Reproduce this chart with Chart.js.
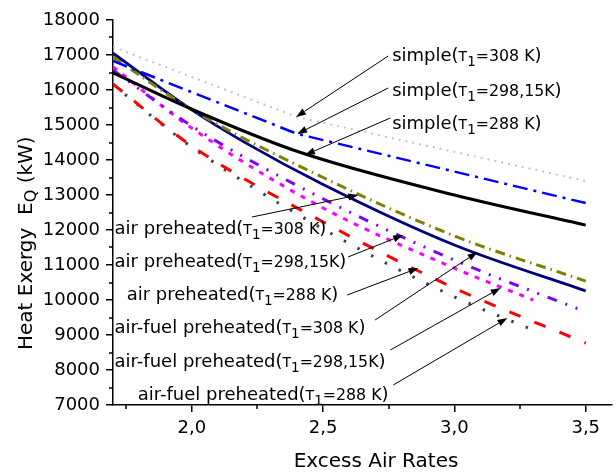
<!DOCTYPE html>
<html><head><meta charset="utf-8">
<script src="https://cdn.jsdelivr.net/npm/chart.js@4.4.0/dist/chart.umd.min.js"></script>
<style>html,body{margin:0;padding:0;background:#fff;}#wrap{width:616px;height:472px;position:relative;}</style>
</head><body><div id="wrap"><canvas id="c" width="616" height="472"></canvas></div>
<script>
// ---- data ----
const simple308X = [1.7, 2.4, 3.5];
const simple308  = [17230, 15230, 13400];
const simple298X = [1.7, 2.4, 3.5];
const simple298  = [16830, 14750, 12770];
const simple288X = [1.7, 2.0, 2.4, 3.0, 3.5];
const simple288  = [16490, 15450, 14250, 13000, 12140];
const airX       = [1.7, 2.0, 2.5, 3.0, 3.5];
const air308     = [16940, 15440, 13500, 11830, 10540];
const air298     = [16570, 14970, 12890, 11140, 9660];
const air288     = [16170, 14400, 12230, 10340, 8770];
const airFuel308X = [1.7, 2.0, 2.2, 2.5, 3.0, 3.5];
const airFuel308  = [17050, 15430, 14510, 13300, 11570, 10260];
const airFuelShortX = [1.7, 2.0, 2.5, 3.0, 3.3];
const airFuel298  = [16660, 14910, 12630, 10910, 10000];
const airFuel288  = [16150, 14370, 12030, 10090, 9140];

const xMajorTicks = [2.0, 2.5, 3.0, 3.5];
const xMinorTicks = [1.75, 2.25, 2.75, 3.25];
const yMinorTicks = [7500, 8500, 9500, 10500, 11500, 12500, 13500, 14500, 15500, 16500, 17500];

const annPrefix = ['simple', 'simple', 'simple', 'air preheated', 'air preheated', 'air preheated',
                   'air-fuel preheated', 'air-fuel preheated', 'air-fuel preheated'];
const annTemp   = ['308 K', '298,15K', '288 K', '308 K', '298,15K', '288 K', '308 K', '298,15K', '288 K'];

// ---- layout of annotations (data coordinates) ----
const annText  = [[2.763,16829],[2.763,15829],[2.763,14886],[1.706,11886],[1.706,10943],[1.752,10000],[1.706,9057],[1.706,8086],[1.794,7143]];
const annFrom  = [[2.748,16971],[2.748,16057],[2.756,15200],[2.229,12371],[2.595,11229],[2.592,10143],[2.698,9429],[2.756,8571],[2.767,7571]];
const annTo    = [[2.397,15229],[2.401,14743],[2.431,14143],[2.634,13000],[2.805,11857],[2.863,10914],[3.088,11371],[3.176,10343],[3.202,9486]];

const FONT = '"DejaVu Sans", sans-serif';
function pts(xs, ys){ return xs.map((x,i)=>({x:x, y:ys[i]})); }
function ds(xs, ys, color, width, dash, smooth){
  return {data: pts(xs, ys), borderColor: color, backgroundColor: color, borderWidth: width,
          borderDash: dash, pointRadius: 0, fill: false,
          tension: smooth ? 0.4 : 0, cubicInterpolationMode: smooth ? 'monotone' : 'default'};
}
function rich(ctx, x, y, parts){
  let cx = x;
  for (const p of parts){ ctx.font = p[1] + 'px ' + FONT; ctx.fillText(p[0], cx, y + p[2]); cx += ctx.measureText(p[0]).width; }
  return cx - x;
}
function richWidth(ctx, parts){
  let w = 0; for (const p of parts){ ctx.font = p[1] + 'px ' + FONT; w += ctx.measureText(p[0]).width; } return w;
}

const extras = {
  id: 'extras',
  afterDraw(chart){
    const ctx = chart.ctx, xs = chart.scales.x, ys = chart.scales.y, a = chart.chartArea;
    ctx.save();
    // minor ticks
    ctx.strokeStyle = '#000'; ctx.lineWidth = 1.5;
    ctx.beginPath();
    xMinorTicks.forEach(v => { const p = Math.round(xs.getPixelForValue(v)); ctx.moveTo(p, a.bottom); ctx.lineTo(p, a.bottom + 4); });
    yMinorTicks.forEach(v => { const p = Math.round(ys.getPixelForValue(v)); ctx.moveTo(a.left, p); ctx.lineTo(a.left - 4, p); });
    ctx.stroke();
    // arrows
    ctx.fillStyle = '#000'; ctx.strokeStyle = '#000'; ctx.lineWidth = 1;
    for (let i = 0; i < annFrom.length; i++){
      const x1 = xs.getPixelForValue(annFrom[i][0]), y1 = ys.getPixelForValue(annFrom[i][1]);
      const x2 = xs.getPixelForValue(annTo[i][0]),   y2 = ys.getPixelForValue(annTo[i][1]);
      const ang = Math.atan2(y2 - y1, x2 - x1), L = 10, W = 3.5;
      const bx = x2 - L*Math.cos(ang), by = y2 - L*Math.sin(ang);
      ctx.beginPath(); ctx.moveTo(x1, y1); ctx.lineTo(bx, by); ctx.stroke();
      ctx.beginPath(); ctx.moveTo(x2, y2);
      ctx.lineTo(bx + W*Math.sin(ang), by - W*Math.cos(ang));
      ctx.lineTo(bx - W*Math.sin(ang), by + W*Math.cos(ang));
      ctx.closePath(); ctx.fill();
    }
    // annotation text
    ctx.fillStyle = '#000'; ctx.textBaseline = 'alphabetic'; ctx.textAlign = 'left';
    for (let i = 0; i < annText.length; i++){
      const x = xs.getPixelForValue(annText[i][0]), y = ys.getPixelForValue(annText[i][1]);
      rich(ctx, x, y, [[annPrefix[i] + '(', 18, 0], ['T', 14, 0], ['1', 13.5, 5], ['=' + annTemp[i], 15.8, 0], [')', 18, 0]]);
    }
    // axis titles
    const xt = [['Excess Air Rates', 20, 0]];
    const w = richWidth(ctx, xt);
    rich(ctx, 376 - w/2, 467, xt);
    ctx.translate(32, 350); ctx.rotate(-Math.PI/2);
    rich(ctx, 0, 0, [['Heat Exergy  E', 20, 0], ['Q', 16, 4], [' (kW)', 20, 0]]);
    ctx.restore();
  }
};

new Chart(document.getElementById('c'), {
  type: 'line',
  data: { datasets: [
    ds(simple308X, simple308, '#c4c4c4', 2, [2, 5], false),
    ds(simple298X, simple298, '#0000ff', 2.5, [15, 6, 3, 6], false),
    ds(simple288X, simple288, '#000000', 3, [], true),
    ds(airX, air308, '#808000', 3, [10, 5, 1.5, 5], true),
    ds(airFuel308X, airFuel308, '#000080', 2.8, [], true),
    ds(airX, air298, '#8000ff', 3, [10, 9, 2, 9, 2, 9], true),
    ds(airFuelShortX, airFuel298, '#ff00ff', 3, [5, 7], true),
    ds(airX, air288, '#ff0000', 3, [12, 15], true),
    ds(airFuelShortX, airFuel288, '#404040', 3, [2.5, 13], true)
  ]},
  options: {
    responsive: false, animation: false,
    layout: { padding: { top: 20, right: 4, left: 0, bottom: 0 } },
    plugins: { legend: { display: false }, tooltip: { enabled: false } },
    scales: {
      x: { type: 'linear', min: 1.7, max: 3.6,
           afterBuildTicks: s => { s.ticks = xMajorTicks.map(v => ({value: v})); },
           afterFit: s => { s.height = 67; },
           grid: { drawOnChartArea: false, tickLength: 7, color: '#000', lineWidth: 1.5 },
           border: { color: '#000', width: 1.5 },
           ticks: { color: '#000', font: { family: FONT, size: 18 }, padding: 6, maxRotation: 0,
                    callback: v => Number(v).toFixed(1).replace('.', ',') } },
      y: { type: 'linear', min: 7000, max: 18000,
           afterFit: s => { s.width = 113; },
           grid: { drawOnChartArea: false, tickLength: 7, color: '#000', lineWidth: 1.5 },
           border: { color: '#000', width: 1.5 },
           ticks: { stepSize: 1000, color: '#000', font: { family: FONT, size: 18 }, padding: 6,
                    callback: v => String(v) } }
    }
  },
  plugins: [extras]
});
</script></body></html>
